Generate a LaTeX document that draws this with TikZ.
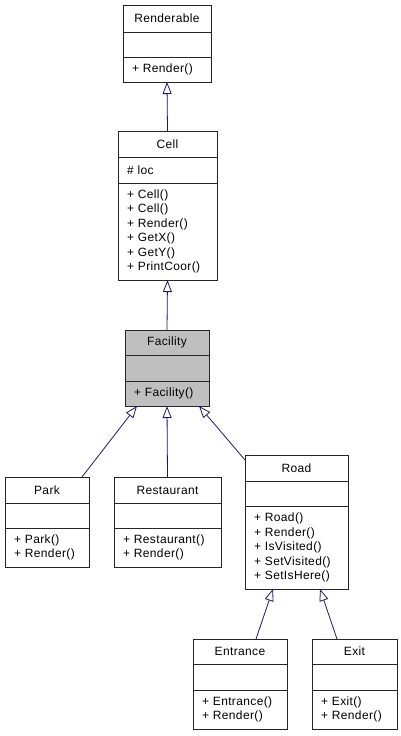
\documentclass[tikz,border=0pt]{standalone}
\usepackage{fontspec}
\setmainfont{Liberation Sans}[LetterSpace=3]
\usetikzlibrary{arrows.meta,calc}
\definecolor{edgeblue}{HTML}{191970}
\definecolor{hlgray}{HTML}{BFBFBF}
\tikzset{
  x=1pt,y=-1pt,
  box/.style={draw=black!85, line width=0.8pt, inner sep=0pt, outer sep=0pt, anchor=north west},
  ttl/.style={inner sep=0pt, font=\fontsize{12}{14.5}\selectfont},
  mem/.style={inner sep=0pt, anchor=west, align=left, font=\fontsize{12}{14.5}\selectfont},
  sepline/.style={draw=black!85, line width=0.8pt},
  inh/.style={draw=edgeblue, line width=0.8pt, -{Triangle[open,length=12pt,width=9pt,fill=white]}}
}
% name, fill, left, right, top, d1, d2, bottom, title
\newcommand{\umlbox}[9]{%
  \node[box, fill=#2, minimum width={(#4-#3)*1pt}, minimum height={(#8-#5)*1pt}] (#1) at (#3,#5) {};
  \draw[sepline] (#3,#6) -- (#4,#6) (#3,#7) -- (#4,#7);
  \node[ttl] (#1-t) at ({(#3+#4)/2},{(#5+#6)/2}) {#9};
}
% name, left, top, bottom, text
\newcommand{\umlmem}[5]{%
  \node[mem] (#1) at ({#2+9},{(#3+#4)/2}) {#5};
}
\begin{document}
\begin{tikzpicture}
\useasboundingbox (0,0) rectangle (401,736);
\fill[white] (0,0) rectangle (401,736);

\umlbox{renderable}{white}{123}{211}{5}{32}{57}{82}{Renderable}
\umlmem{renderable-m}{123}{57}{82}{+ Render()}

\umlbox{cell}{white}{118}{217}{131}{157}{183}{280}{Cell}
\umlmem{cell-a}{118}{157}{183}{\# loc}
\umlmem{cell-m}{118}{183}{280}{+ Cell()\\+ Cell()\\+ Render()\\+ GetX()\\+ GetY()\\+ PrintCoor()}

\umlbox{facility}{hlgray}{125}{209}{330}{355}{381}{406}{Facility}
\umlmem{facility-m}{125}{381}{406}{+ Facility()}

\umlbox{park}{white}{5}{89}{477}{503}{528}{567}{Park}
\umlmem{park-m}{5}{528}{567}{+ Park()\\+ Render()}

\umlbox{restaurant}{white}{114}{221}{477}{503}{528}{567}{Restaurant}
\umlmem{restaurant-m}{114}{528}{567}{+ Restaurant()\\+ Render()}

\umlbox{road}{white}{245}{348}{455}{481}{506}{589}{Road}
\umlmem{road-m}{245}{506}{589}{+ Road()\\+ Render()\\+ IsVisited()\\+ SetVisited()\\+ SetIsHere()}

\umlbox{entrance}{white}{193}{287}{639}{664}{690}{729}{Entrance}
\umlmem{entrance-m}{193}{690}{729}{+ Entrance()\\+ Render()}

\umlbox{exit}{white}{312}{397}{639}{664}{690}{729}{Exit}
\umlmem{exit-m}{312}{690}{729}{+ Exit()\\+ Render()}

\draw[inh] (cell.north) -- (renderable.south);
\draw[inh] (facility.north) -- (cell.south);
\draw[inh] (restaurant.north) -- (facility.south);
\draw[inh] ($(park.north east)+(-7,0)$) -- ($(facility.south)+(-30,0)$);
\draw[inh] ($(road.north west)+(0,5)$) -- ($(facility.south)+(32,0)$);
\draw[inh] ($(entrance.north)+(16,0)$) -- ($(road.south)+(-23.5,0)$);
\draw[inh] ($(exit.north)+(-17.5,0)$) -- ($(road.south)+(23.5,0)$);
\end{tikzpicture}
\end{document}
